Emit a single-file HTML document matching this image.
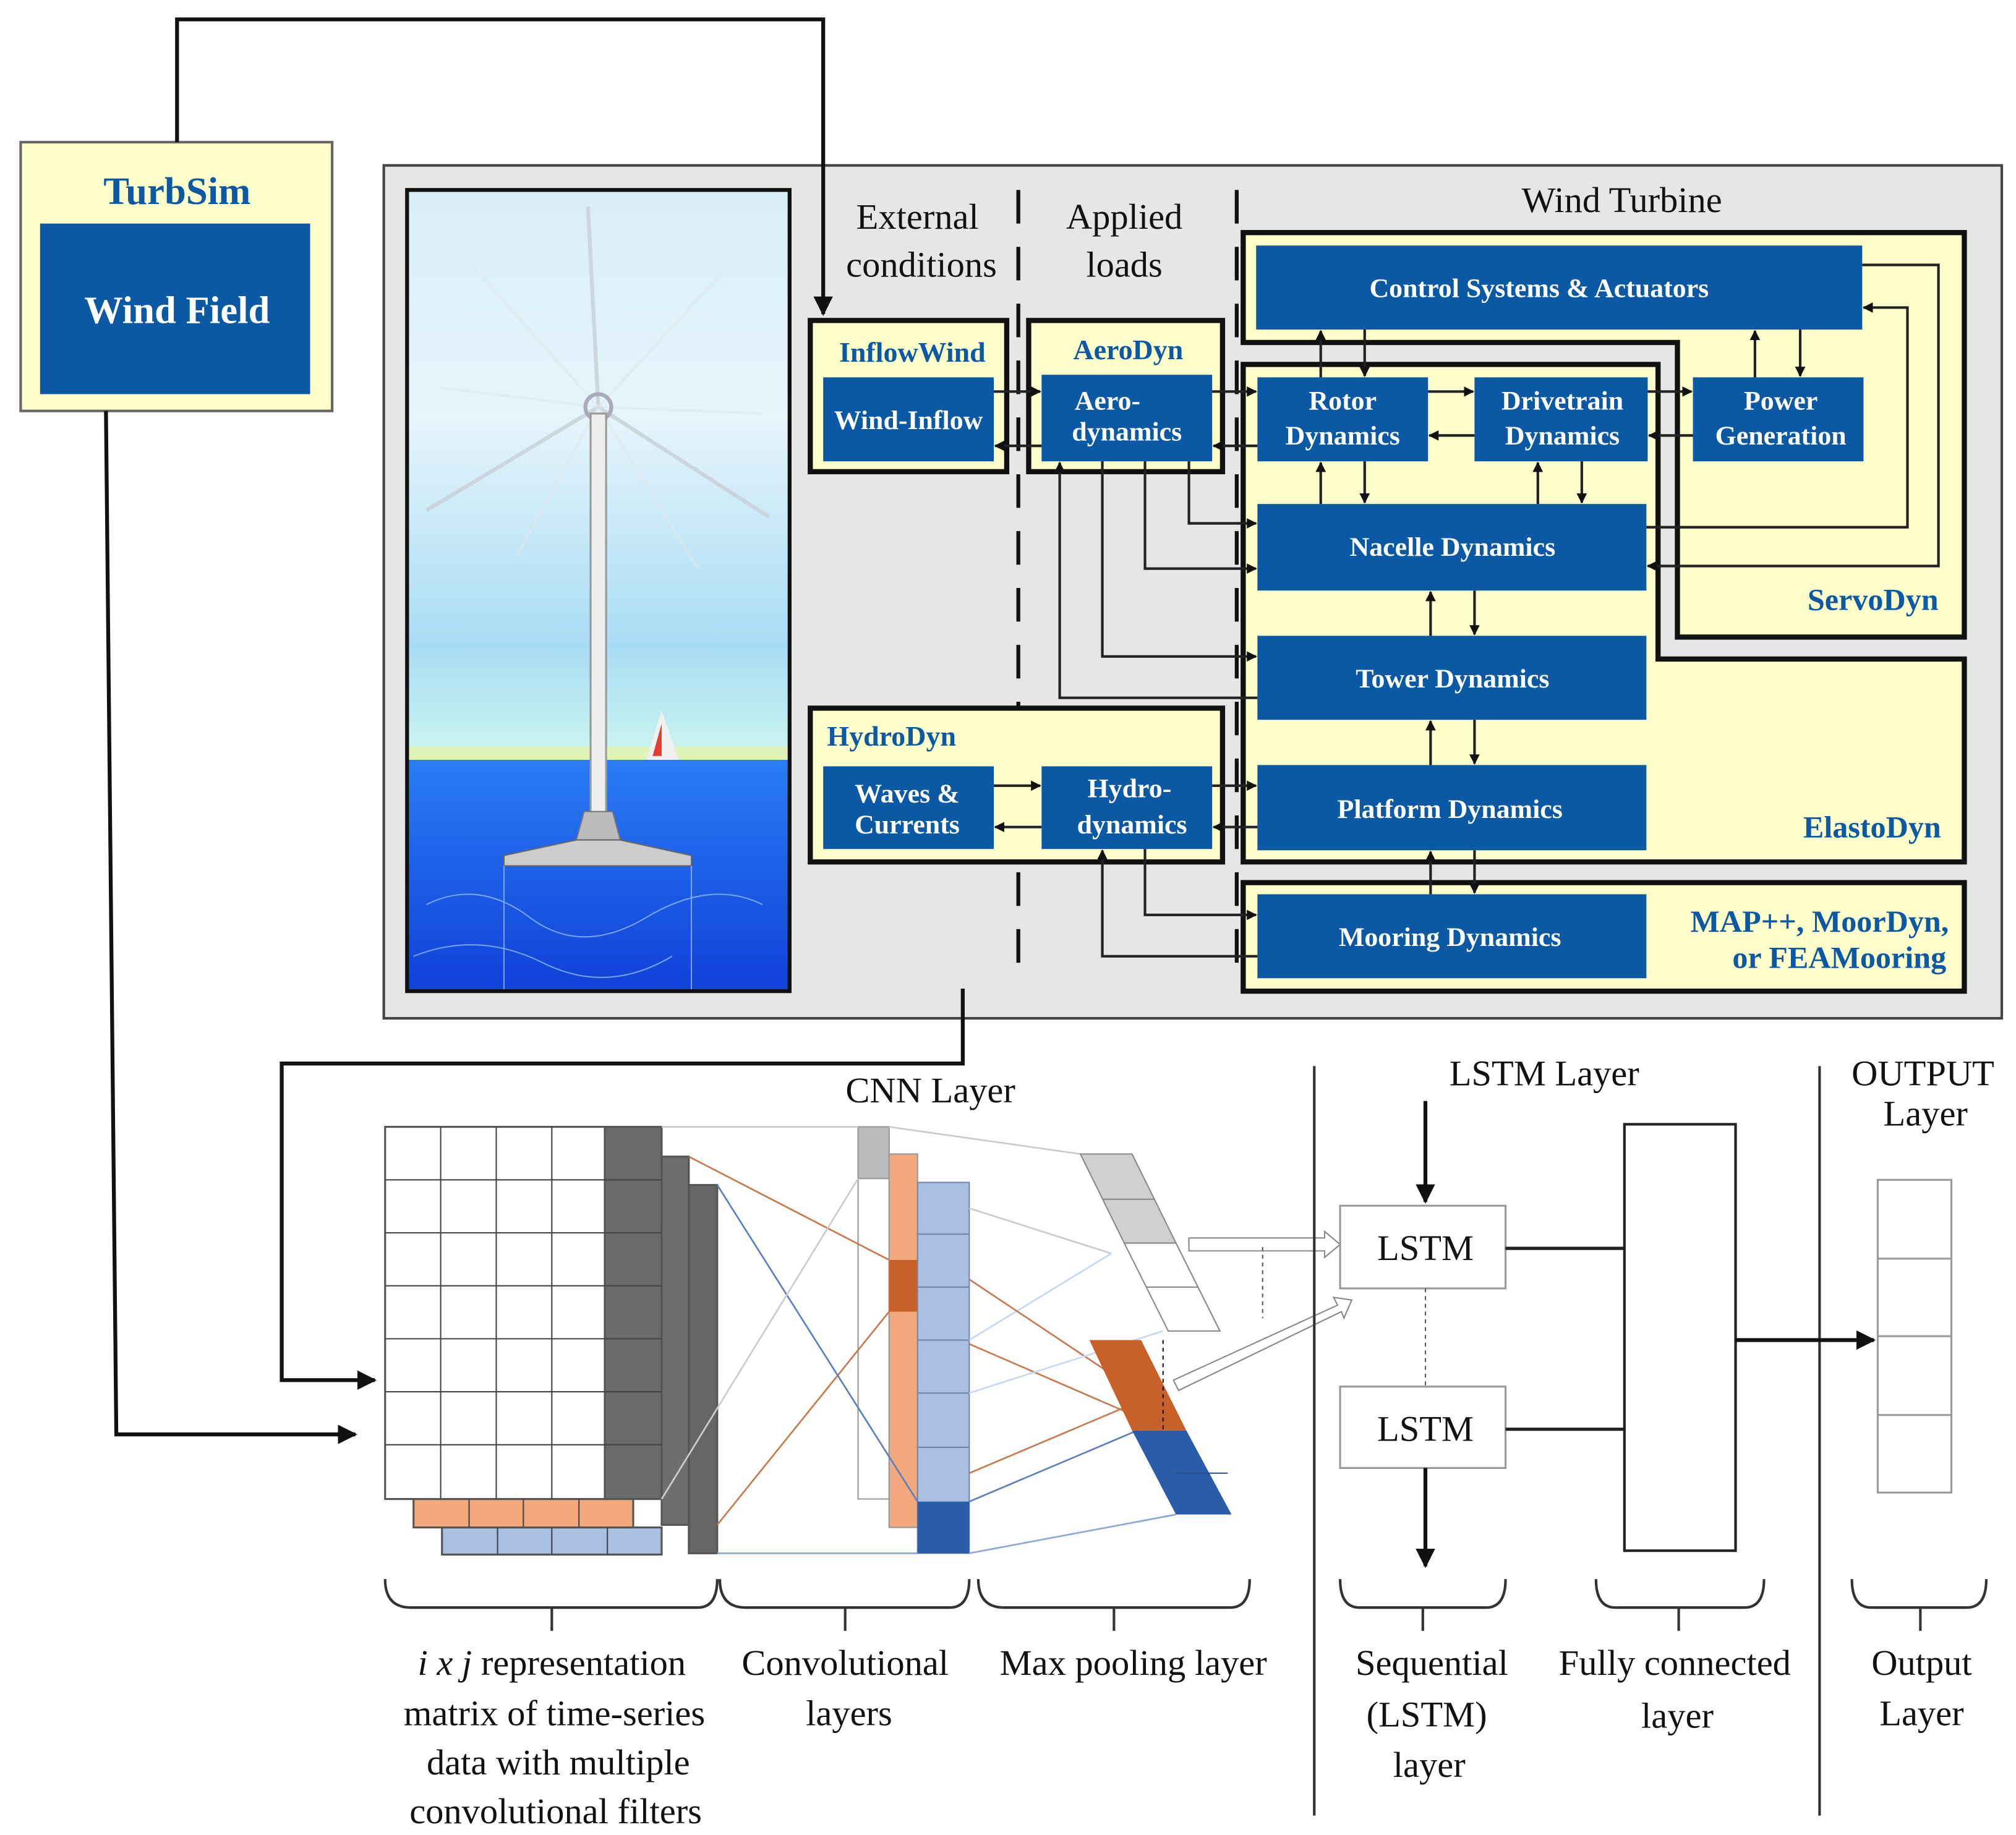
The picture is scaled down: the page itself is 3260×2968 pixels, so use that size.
<!DOCTYPE html>
<html><head><meta charset="utf-8"><style>
html,body{margin:0;padding:0;background:#fff}
svg{display:block}
.bx{fill:#0b59a4}
.wt{fill:#fff;font-family:"Liberation Serif",serif;font-weight:bold;font-size:21px;text-anchor:middle}
.bl{fill:#0b59a4;font-family:"Liberation Serif",serif;font-weight:bold;font-size:22px}
.hd{fill:#111;font-family:"Liberation Serif",serif;font-size:28px;text-anchor:middle}
.lb{fill:#111;font-family:"Liberation Serif",serif;font-size:28px;text-anchor:middle}
.ln{stroke:#222;stroke-width:2;fill:none}
.ctr{stroke:#111;stroke-width:3;fill:none}
</style></head><body>
<svg width="3260" height="2968" viewBox="0 0 1560 1420" preserveAspectRatio="none" xmlns="http://www.w3.org/2000/svg">
<defs>
<marker id="a" viewBox="0 0 10 10" refX="9" refY="5" markerWidth="5" markerHeight="5" orient="auto"><path d="M0,0L10,5L0,10z" fill="#111"/></marker>
<marker id="b" viewBox="0 0 10 10" refX="9" refY="5" markerWidth="4" markerHeight="4" orient="auto"><path d="M0,0L10,5L0,10z" fill="#111"/></marker>
<linearGradient id="sky" x1="0" y1="0" x2="0" y2="1"><stop offset="0" stop-color="#d8eef8"/><stop offset="0.4" stop-color="#e6f4fb"/><stop offset="0.8" stop-color="#a8dcf4"/><stop offset="1" stop-color="#cdf6f0"/></linearGradient>
<linearGradient id="sea" x1="0" y1="0" x2="0" y2="1"><stop offset="0" stop-color="#2a7cf5"/><stop offset="1" stop-color="#1040d8"/></linearGradient>
</defs>

<!-- TurbSim -->
<rect x="16" y="110" width="241" height="208" fill="#ffffcc" stroke="#666" stroke-width="2"/>
<text x="137" y="158" class="bl" text-anchor="middle" style="font-size:30px">TurbSim</text>
<rect x="31" y="173" width="209" height="132" class="bx"/>
<text x="137" y="250" class="wt" style="font-size:30px">Wind Field</text>
<polyline points="82,318 90,1110 275,1110" class="ctr" marker-end="url(#a)"/>

<!-- main panel -->
<rect x="297" y="128" width="1252" height="660" fill="#e6e6e6" stroke="#444" stroke-width="2"/>
<polyline points="137,110 137,15 637,15 637,243" class="ctr" marker-end="url(#a)"/>
<!-- turbine picture -->
<rect x="315" y="147" width="296" height="441" fill="url(#sky)"/>
<rect x="315" y="588" width="296" height="179" fill="url(#sea)"/>
<rect x="315" y="578" width="296" height="10" fill="#e8f4a0" opacity="0.7"/>
<g stroke="#c8d0d8" stroke-width="3" opacity="0.8">
<line x1="463" y1="315" x2="330" y2="395"/><line x1="463" y1="315" x2="595" y2="400"/><line x1="463" y1="315" x2="455" y2="160"/>
</g>
<g stroke="#e0e8ee" stroke-width="2" opacity="0.6">
<line x1="463" y1="315" x2="360" y2="200"/><line x1="463" y1="315" x2="560" y2="210"/><line x1="463" y1="315" x2="340" y2="300"/><line x1="463" y1="315" x2="590" y2="320"/><line x1="463" y1="315" x2="400" y2="430"/><line x1="463" y1="315" x2="540" y2="440"/>
</g>
<circle cx="463" cy="315" r="10" fill="none" stroke="#aab" stroke-width="3"/>
<rect x="457" y="320" width="12" height="310" fill="#eee" stroke="#999" stroke-width="1.5"/>
<polygon points="452,628 474,628 480,650 446,650" fill="#bbb" stroke="#777"/>
<polygon points="446,650 480,650 535,662 535,670 390,670 390,662" fill="#ccc" stroke="#666"/>
<polygon points="500,588 512,550 525,588" fill="#f0f0f0"/><polygon points="505,585 512,560 512,585" fill="#e04030"/>
<g stroke="#9ec8ff" stroke-width="1" fill="none" opacity="0.7"><line x1="390" y1="670" x2="390" y2="767"/><line x1="535" y1="670" x2="535" y2="767"/><path d="M330,700 q40,-20 80,10 t90,0 t90,-10"/><path d="M320,740 q50,-20 100,5 t100,-5"/></g>
<rect x="315" y="147" width="296" height="620" fill="none" stroke="#111" stroke-width="3"/>

<!-- dashed dividers -->
<line x1="788" y1="147" x2="788" y2="760" stroke="#111" stroke-width="3" stroke-dasharray="26,18"/>
<line x1="957" y1="147" x2="957" y2="760" stroke="#111" stroke-width="3" stroke-dasharray="26,18"/>
<text x="710" y="177" class="hd">External</text><text x="713" y="214" class="hd">conditions</text>
<text x="870" y="177" class="hd">Applied</text><text x="870" y="214" class="hd">loads</text>
<text x="1255" y="164" class="hd">Wind Turbine</text>

<!-- module regions -->
<polygon points="962,180 1520,180 1520,493 1298,493 1298,265 962,265" fill="#ffffcc" stroke="#111" stroke-width="4"/>
<polygon points="962,282 1283,282 1283,510 1520,510 1520,667 962,667" fill="#ffffcc" stroke="#111" stroke-width="4"/>
<rect x="962" y="683" width="558" height="84" fill="#ffffcc" stroke="#111" stroke-width="4"/>
<rect x="627" y="248" width="152" height="117" fill="#ffffcc" stroke="#111" stroke-width="4"/>
<rect x="796" y="248" width="150" height="117" fill="#ffffcc" stroke="#111" stroke-width="4"/>
<rect x="627" y="548" width="319" height="119" fill="#ffffcc" stroke="#111" stroke-width="4"/>

<text x="706" y="280" class="bl" text-anchor="middle">InflowWind</text>
<text x="873" y="278" class="bl" text-anchor="middle">AeroDyn</text>
<text x="640" y="577" class="bl">HydroDyn</text>
<text x="1500" y="472" class="bl" text-anchor="end" style="font-size:24px">ServoDyn</text>
<text x="1502" y="648" class="bl" text-anchor="end" style="font-size:24px">ElastoDyn</text>
<text x="1508" y="721" class="bl" text-anchor="end" style="font-size:24px">MAP++, MoorDyn,</text>
<text x="1506" y="749" class="bl" text-anchor="end" style="font-size:24px">or FEAMooring</text>

<!-- blue boxes -->
<rect x="637" y="292" width="132" height="65" class="bx"/><text x="703" y="332" class="wt">Wind-Inflow</text>
<rect x="806" y="290" width="132" height="67" class="bx"/><text x="857" y="317" class="wt">Aero-</text><text x="872" y="341" class="wt">dynamics</text>
<rect x="972" y="190" width="469" height="65" class="bx"/><text x="1191" y="230" class="wt">Control Systems &amp; Actuators</text>
<rect x="973" y="292" width="132" height="65" class="bx"/><text x="1039" y="317" class="wt">Rotor</text><text x="1039" y="344" class="wt">Dynamics</text>
<rect x="1141" y="292" width="134" height="65" class="bx"/><text x="1209" y="317" class="wt">Drivetrain</text><text x="1209" y="344" class="wt">Dynamics</text>
<rect x="1310" y="292" width="132" height="65" class="bx"/><text x="1378" y="317" class="wt">Power</text><text x="1378" y="344" class="wt">Generation</text>
<rect x="973" y="390" width="301" height="67" class="bx"/><text x="1124" y="430" class="wt">Nacelle Dynamics</text>
<rect x="973" y="492" width="301" height="65" class="bx"/><text x="1124" y="532" class="wt">Tower Dynamics</text>
<rect x="973" y="592" width="301" height="66" class="bx"/><text x="1122" y="633" class="wt">Platform Dynamics</text>
<rect x="973" y="692" width="301" height="65" class="bx"/><text x="1122" y="732" class="wt">Mooring Dynamics</text>
<rect x="637" y="593" width="132" height="64" class="bx"/><text x="702" y="621" class="wt">Waves &amp;</text><text x="702" y="645" class="wt">Currents</text>
<rect x="806" y="593" width="132" height="64" class="bx"/><text x="874" y="617" class="wt">Hydro-</text><text x="876" y="645" class="wt">dynamics</text>

<!-- connectors -->
<g class="ln">
<line x1="769" y1="303" x2="805" y2="303" marker-end="url(#b)"/>
<line x1="806" y1="345" x2="770" y2="345" marker-end="url(#b)"/>
<line x1="938" y1="303" x2="972" y2="303" marker-end="url(#b)"/>
<line x1="973" y1="345" x2="939" y2="345" marker-end="url(#b)"/>
<line x1="1105" y1="303" x2="1140" y2="303" marker-end="url(#b)"/>
<line x1="1141" y1="337" x2="1106" y2="337" marker-end="url(#b)"/>
<line x1="1275" y1="303" x2="1309" y2="303" marker-end="url(#b)"/>
<line x1="1310" y1="337" x2="1276" y2="337" marker-end="url(#b)"/>
<line x1="1022" y1="292" x2="1022" y2="256" marker-end="url(#b)"/>
<line x1="1056" y1="255" x2="1056" y2="291" marker-end="url(#b)"/>
<line x1="1358" y1="292" x2="1358" y2="256" marker-end="url(#b)"/>
<line x1="1393" y1="255" x2="1393" y2="291" marker-end="url(#b)"/>
<line x1="1022" y1="390" x2="1022" y2="358" marker-end="url(#b)"/>
<line x1="1056" y1="357" x2="1056" y2="389" marker-end="url(#b)"/>
<line x1="1190" y1="390" x2="1190" y2="358" marker-end="url(#b)"/>
<line x1="1224" y1="357" x2="1224" y2="389" marker-end="url(#b)"/>
<polyline points="1274,408 1476,408 1476,238 1442,238" marker-end="url(#b)"/>
<polyline points="1441,205 1500,205 1500,438 1275,438" marker-end="url(#b)"/>
<line x1="1107" y1="492" x2="1107" y2="458" marker-end="url(#b)"/>
<line x1="1141" y1="457" x2="1141" y2="491" marker-end="url(#b)"/>
<line x1="1107" y1="592" x2="1107" y2="558" marker-end="url(#b)"/>
<line x1="1141" y1="557" x2="1141" y2="591" marker-end="url(#b)"/>
<line x1="1107" y1="692" x2="1107" y2="659" marker-end="url(#b)"/>
<line x1="1141" y1="658" x2="1141" y2="691" marker-end="url(#b)"/>
<polyline points="973,540 820,540 820,358" marker-end="url(#b)"/>
<polyline points="853,357 853,508 972,508" marker-end="url(#b)"/>
<polyline points="886,357 886,440 972,440" marker-end="url(#b)"/>
<polyline points="920,357 920,405 972,405" marker-end="url(#b)"/>
<line x1="769" y1="608" x2="805" y2="608" marker-end="url(#b)"/>
<line x1="806" y1="640" x2="770" y2="640" marker-end="url(#b)"/>
<line x1="938" y1="608" x2="972" y2="608" marker-end="url(#b)"/>
<line x1="973" y1="640" x2="939" y2="640" marker-end="url(#b)"/>
<polyline points="973,740 853,740 853,658" marker-end="url(#b)"/>
<polyline points="886,657 886,708 972,708" marker-end="url(#b)"/>
</g>
<polyline points="745,765 745,823 218,823 218,1068 290,1068" class="ctr" marker-end="url(#a)"/>

<!-- CNN -->
<text x="720" y="853" class="lb">CNN Layer</text>
<g stroke="#555" stroke-width="1.5">
<rect x="533" y="917" width="22" height="285" fill="#666"/>
<rect x="512" y="895" width="21" height="285" fill="#6e6e6e"/>
<rect x="342" y="1182" width="170" height="21" fill="#a9c0e0"/>
<rect x="320" y="1160" width="170" height="22" fill="#f4a97c"/>
<rect x="298" y="872" width="172" height="288" fill="#fff"/>
<rect x="468" y="872" width="44" height="288" fill="#6a6a6a"/>
</g>
<g stroke="#444" stroke-width="1">
<line x1="341" y1="872" x2="341" y2="1160"/><line x1="384" y1="872" x2="384" y2="1160"/><line x1="427" y1="872" x2="427" y2="1160"/>
<line x1="298" y1="913" x2="512" y2="913"/><line x1="298" y1="954" x2="512" y2="954"/><line x1="298" y1="995" x2="512" y2="995"/><line x1="298" y1="1036" x2="512" y2="1036"/><line x1="298" y1="1077" x2="512" y2="1077"/><line x1="298" y1="1118" x2="512" y2="1118"/>
<line x1="363" y1="1160" x2="363" y2="1182"/><line x1="405" y1="1160" x2="405" y2="1182"/><line x1="448" y1="1160" x2="448" y2="1182"/>
<line x1="385" y1="1182" x2="385" y2="1203"/><line x1="427" y1="1182" x2="427" y2="1203"/><line x1="470" y1="1182" x2="470" y2="1203"/>
</g>
<!-- conv cols -->
<rect x="664" y="872" width="24" height="288" fill="#fff" stroke="#999"/>
<rect x="664" y="872" width="24" height="40" fill="#bbb" stroke="#999"/>
<rect x="688" y="893" width="22" height="289" fill="#f4a97c" stroke="#999"/>
<rect x="688" y="975" width="22" height="40" fill="#c8602a"/>
<rect x="710" y="915" width="40" height="287" fill="#a9c0e0" stroke="#6f86a8"/>
<rect x="710" y="1162" width="40" height="40" fill="#2a5ca8"/>
<g stroke="#6f86a8" stroke-width="1"><line x1="710" y1="955" x2="750" y2="955"/><line x1="710" y1="996" x2="750" y2="996"/><line x1="710" y1="1037" x2="750" y2="1037"/><line x1="710" y1="1078" x2="750" y2="1078"/><line x1="710" y1="1120" x2="750" y2="1120"/></g>
<!-- connection lines -->
<g fill="none" stroke-width="1.3">
<line x1="533" y1="895" x2="688" y2="975" stroke="#c87a50"/>
<line x1="555" y1="1180" x2="688" y2="1015" stroke="#c87a50"/>
<line x1="555" y1="917" x2="710" y2="1162" stroke="#5f7fc0"/>
<line x1="555" y1="1202" x2="710" y2="1202" stroke="#8fa8d8"/>
<line x1="512" y1="1160" x2="664" y2="912" stroke="#ccc"/>
<line x1="512" y1="872" x2="664" y2="872" stroke="#ccc"/>
<line x1="688" y1="872" x2="836" y2="893" stroke="#ccc"/>
<line x1="750" y1="935" x2="860" y2="970" stroke="#ccc"/>
<line x1="750" y1="1037" x2="860" y2="970" stroke="#c8d8f0"/>
<line x1="750" y1="990" x2="870" y2="1070" stroke="#c87a50"/>
<line x1="750" y1="1040" x2="900" y2="1105" stroke="#c87a50"/>
<line x1="750" y1="1140" x2="880" y2="1085" stroke="#c87a50"/>
<line x1="750" y1="1078" x2="900" y2="1030" stroke="#c8d8f0"/>
<line x1="750" y1="1162" x2="880" y2="1107" stroke="#5f7fc0"/>
<line x1="750" y1="1202" x2="910" y2="1172" stroke="#8fa8d8"/>
</g>
<!-- max pooling -->
<polygon points="836,893 876,893 910,962 870,962" fill="#d0d0d0" stroke="#888"/>
<line x1="853" y1="928" x2="893" y2="928" stroke="#888"/>
<polygon points="870,962 910,962 944,1030 904,1030" fill="#fff" stroke="#888"/>
<line x1="887" y1="996" x2="927" y2="996" stroke="#888"/>
<polygon points="843,1037 883,1037 918,1107 876,1107" fill="#c8602a"/>
<polygon points="876,1107 918,1107 953,1172 910,1172" fill="#2a5ca8"/>
<line x1="910" y1="1140" x2="950" y2="1140" stroke="#244e90"/>
<line x1="900" y1="1037" x2="900" y2="1107" stroke="#111" stroke-dasharray="3,3"/>
<!-- hollow arrows -->
<polygon points="920,958 1025,958 1025,953 1037,963 1025,973 1025,968 920,968" fill="#fff" stroke="#888"/>
<polygon points="908,1068 1035,1010 1032,1004 1046,1006 1040,1020 1038,1015 912,1076" fill="#fff" stroke="#888"/>
<line x1="977" y1="965" x2="977" y2="1020" stroke="#555" stroke-dasharray="3,3"/>

<!-- LSTM -->
<line x1="1017" y1="825" x2="1017" y2="1405" stroke="#333" stroke-width="2"/>
<line x1="1408" y1="825" x2="1408" y2="1405" stroke="#333" stroke-width="2"/>
<text x="1195" y="840" class="lb">LSTM Layer</text>
<line x1="1103" y1="852" x2="1103" y2="930" class="ctr" marker-end="url(#a)"/>
<rect x="1037" y="933" width="128" height="64" fill="#fff" stroke="#999" stroke-width="1.5"/>
<text x="1103" y="975" class="lb">LSTM</text>
<line x1="1103" y1="997" x2="1103" y2="1073" stroke="#555" stroke-dasharray="3,3"/>
<rect x="1037" y="1073" width="128" height="63" fill="#fff" stroke="#999" stroke-width="1.5"/>
<text x="1103" y="1115" class="lb">LSTM</text>
<line x1="1103" y1="1136" x2="1103" y2="1212" class="ctr" marker-end="url(#a)"/>
<line x1="1165" y1="966" x2="1257" y2="966" stroke="#222" stroke-width="2.5"/>
<line x1="1165" y1="1106" x2="1257" y2="1106" stroke="#222" stroke-width="2.5"/>
<rect x="1257" y="870" width="86" height="330" fill="#fff" stroke="#222" stroke-width="2"/>
<line x1="1343" y1="1037" x2="1450" y2="1037" class="ctr" stroke-width="2.5" marker-end="url(#a)"/>
<text x="1488" y="840" class="lb">OUTPUT</text><text x="1490" y="871" class="lb">Layer</text>
<rect x="1453" y="913" width="57" height="242" fill="#fff" stroke="#999" stroke-width="1.5"/>
<g stroke="#999" stroke-width="1.5"><line x1="1453" y1="974" x2="1510" y2="974"/><line x1="1453" y1="1034" x2="1510" y2="1034"/><line x1="1453" y1="1095" x2="1510" y2="1095"/></g>

<!-- braces -->
<g fill="none" stroke="#333" stroke-width="2">
<path d="M298,1222 q0,22 20,22 L540,1244 q15,0 15,-22"/><line x1="427" y1="1244" x2="427" y2="1262"/>
<path d="M557,1222 q0,22 20,22 L735,1244 q15,0 15,-22"/><line x1="654" y1="1244" x2="654" y2="1262"/>
<path d="M757,1222 q0,22 20,22 L952,1244 q15,0 15,-22"/><line x1="862" y1="1244" x2="862" y2="1262"/>
<path d="M1037,1222 q0,22 15,22 L1150,1244 q15,0 15,-22"/><line x1="1101" y1="1244" x2="1101" y2="1262"/>
<path d="M1235,1222 q0,22 15,22 L1350,1244 q15,0 15,-22"/><line x1="1299" y1="1244" x2="1299" y2="1262"/>
<path d="M1433,1222 q0,22 15,22 L1522,1244 q15,0 15,-22"/><line x1="1486" y1="1244" x2="1486" y2="1262"/>
</g>
<text x="427" y="1296" class="lb"><tspan font-style="italic">i x j</tspan> representation</text>
<text x="429" y="1335" class="lb">matrix of time-series</text>
<text x="432" y="1373" class="lb">data with multiple</text>
<text x="430" y="1411" class="lb">convolutional filters</text>
<text x="654" y="1296" class="lb">Convolutional</text><text x="657" y="1335" class="lb">layers</text>
<text x="877" y="1296" class="lb">Max pooling layer</text>
<text x="1108" y="1296" class="lb">Sequential</text><text x="1104" y="1336" class="lb">(LSTM)</text><text x="1106" y="1375" class="lb">layer</text>
<text x="1296" y="1296" class="lb">Fully connected</text><text x="1298" y="1337" class="lb">layer</text>
<text x="1487" y="1296" class="lb">Output</text><text x="1487" y="1335" class="lb">Layer</text>
</svg>
</body></html>
